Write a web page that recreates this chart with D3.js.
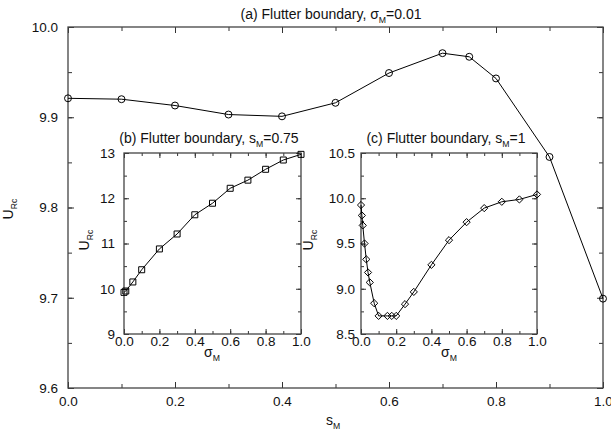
<!DOCTYPE html>
<html><head><meta charset="utf-8">
<script src="https://cdn.jsdelivr.net/npm/d3@7/dist/d3.min.js"></script>
<style>body{margin:0;background:#fff}svg{display:block}text{font-family:"Liberation Sans",Arial,sans-serif;fill:#111}</style>
</head><body><svg id="c" width="611" height="435"></svg>
<script>
// (a) main: U_Rc vs s_M, sigma_M = 0.01
const mainS = [0, 0.1, 0.2, 0.3, 0.4, 0.5, 0.6, 0.7, 0.75, 0.8, 0.9, 1.0];
const mainU = [9.921, 9.920, 9.913, 9.903, 9.901, 9.916, 9.949, 9.971, 9.967, 9.943, 9.856, 9.699];
// (b) inset: U_Rc vs sigma_M, s_M = 0.75
const bSigma = [0, 0.01, 0.05, 0.1, 0.2, 0.3, 0.4, 0.5, 0.6, 0.7, 0.8, 0.9, 1.0];
const bU = [9.92, 9.95, 10.15, 10.42, 10.88, 11.21, 11.635, 11.89, 12.22, 12.40, 12.64, 12.845, 12.97];
// (c) inset: U_Rc vs sigma_M, s_M = 1
const cSigma = [0, 0.005, 0.01, 0.02, 0.03, 0.04, 0.05, 0.075, 0.1, 0.15, 0.175, 0.2, 0.25, 0.3, 0.4, 0.5, 0.6, 0.7, 0.8, 0.9, 1.0];
const cU = [9.925, 9.81, 9.70, 9.50, 9.325, 9.18, 9.07, 8.84, 8.70, 8.70, 8.70, 8.70, 8.83, 8.965, 9.264, 9.537, 9.736, 9.891, 9.961, 9.987, 10.042];

const mainXTicks = [0, 0.2, 0.4, 0.6, 0.8, 1.0];
const mainYTicks = [9.6, 9.7, 9.8, 9.9, 10.0];
const insXTicks = [0, 0.2, 0.4, 0.6, 0.8, 1.0];
const bYTicks = [9, 10, 11, 12, 13];
const cYTicks = [8.5, 9.0, 9.5, 10.0, 10.5];

const svg = d3.select("#c");

function subText(g, x, y, parts, opts) {
  const t = g.append("text").attr("x", x).attr("y", y)
    .attr("text-anchor", opts.anchor || "middle").attr("font-size", opts.size);
  if (opts.rotate) t.attr("transform", `rotate(-90,${x},${y})`);
  parts.forEach(p => {
    const ts = t.append("tspan").text(p.t);
    if (p.sub) ts.attr("font-size", opts.size * 0.62).attr("dy", opts.size * 0.25);
    else if (p.after) ts.attr("dy", -opts.size * 0.25);
  });
  return t;
}

function panel(cfg) {
  const g = svg.append("g");
  const x = d3.scaleLinear().domain(cfg.xd).range([cfg.l, cfg.r]);
  const y = d3.scaleLinear().domain(cfg.yd).range([cfg.b, cfg.t]);
  g.append("rect").attr("x", cfg.l).attr("y", cfg.t).attr("width", cfg.r - cfg.l).attr("height", cfg.b - cfg.t)
    .attr("fill", "#fff").attr("stroke", "none");
  const tk = (sel) => sel.call(s => s.select(".domain").remove())
    .call(s => s.selectAll("line").attr("stroke", "#333"));
  const xMinor = d3.range(cfg.xd[0], cfg.xd[1] + 1e-9, cfg.xMinor);
  const yMinor = d3.range(cfg.yd[0], cfg.yd[1] + 1e-9, cfg.yMinor);
  const addTicks = (axis, tr) => g.append("g").attr("transform", tr).call(axis).call(tk);
  addTicks(d3.axisBottom(x).tickValues(xMinor).tickSize(-cfg.minor).tickFormat(""), `translate(0,${cfg.b})`);
  addTicks(d3.axisTop(x).tickValues(xMinor).tickSize(-cfg.minor).tickFormat(""), `translate(0,${cfg.t})`);
  addTicks(d3.axisLeft(y).tickValues(yMinor).tickSize(-cfg.minor).tickFormat(""), `translate(${cfg.l},0)`);
  addTicks(d3.axisRight(y).tickValues(yMinor).tickSize(-cfg.minor).tickFormat(""), `translate(${cfg.r},0)`);
  addTicks(d3.axisBottom(x).tickValues(cfg.xTicks).tickSize(-cfg.major).tickPadding(cfg.xpad).tickFormat(d3.format(cfg.xf)), `translate(0,${cfg.b})`);
  addTicks(d3.axisTop(x).tickValues(cfg.xTicks).tickSize(-cfg.major).tickFormat(""), `translate(0,${cfg.t})`);
  addTicks(d3.axisLeft(y).tickValues(cfg.yTicks).tickSize(-cfg.major).tickPadding(cfg.ypad).tickFormat(d3.format(cfg.yf)), `translate(${cfg.l},0)`);
  addTicks(d3.axisRight(y).tickValues(cfg.yTicks).tickSize(-cfg.major).tickFormat(""), `translate(${cfg.r},0)`);
  g.selectAll(".tick text").attr("font-size", cfg.fs).attr("font-family", "Liberation Sans, Arial, sans-serif").attr("fill", "#111");
  g.append("rect").attr("x", cfg.l).attr("y", cfg.t).attr("width", cfg.r - cfg.l).attr("height", cfg.b - cfg.t)
    .attr("fill", "none").attr("stroke", "#444").attr("stroke-width", 1.3);
  const pts = cfg.xs.map((v, i) => [v, cfg.ys[i]]);
  g.append("path").datum(pts).attr("fill", "none").attr("stroke", "#000").attr("stroke-width", 1)
    .attr("d", d3.line().x(d => x(d[0])).y(d => y(d[1])));
  g.selectAll(".m").data(pts).join("path")
    .attr("transform", d => `translate(${x(d[0])},${y(d[1])})`)
    .attr("fill", "none").attr("stroke", "#000").attr("stroke-width", 1)
    .attr("d", cfg.marker);
  return {g, x, y};
}

// main
panel({l: 68, r: 603, t: 27, b: 388, xd: [0, 1], yd: [9.6, 10.0],
  xTicks: mainXTicks, yTicks: mainYTicks, xMinor: 0.1, yMinor: 0.05, major: 6, minor: 4,
  xpad: 8, ypad: 10, xf: ".1f", yf: ".1f", fs: 13.5, xs: mainS, ys: mainU,
  marker: d3.symbol().type(d3.symbolCircle).size(38)()});
subText(svg, 331, 19, [{t: "(a) Flutter boundary, σ"}, {t: "M", sub: true}, {t: "=0.01", after: true}], {size: 14});
subText(svg, 333, 425, [{t: "s"}, {t: "M", sub: true}], {size: 14});
subText(svg, 13, 209, [{t: "U"}, {t: "Rc", sub: true}], {size: 14, rotate: true});

// inset b
panel({l: 124, r: 301, t: 153, b: 334, xd: [0, 1], yd: [9, 13],
  xTicks: insXTicks, yTicks: bYTicks, xMinor: 0.1, yMinor: 0.5, major: 5, minor: 3,
  xpad: 2, ypad: 9, xf: ".1f", yf: "d", fs: 13.5, xs: bSigma, ys: bU,
  marker: "M-3,-3h6v6h-6z"});
subText(svg, 209, 143, [{t: "(b) Flutter boundary, s"}, {t: "M", sub: true}, {t: "=0.75", after: true}], {size: 14});
subText(svg, 212, 357, [{t: "σ"}, {t: "M", sub: true}], {size: 14});
subText(svg, 89, 240, [{t: "U"}, {t: "Rc", sub: true}], {size: 14, rotate: true});

// inset c
panel({l: 361, r: 537, t: 153, b: 334, xd: [0, 1], yd: [8.5, 10.5],
  xTicks: insXTicks, yTicks: cYTicks, xMinor: 0.1, yMinor: 0.25, major: 5, minor: 3,
  xpad: 2, ypad: 6, xf: ".1f", yf: ".1f", fs: 13.5, xs: cSigma, ys: cU,
  marker: "M0,-3.6L3.6,0L0,3.6L-3.6,0Z"});
subText(svg, 446, 143, [{t: "(c) Flutter boundary, s"}, {t: "M", sub: true}, {t: "=1", after: true}], {size: 14});
subText(svg, 449, 357, [{t: "σ"}, {t: "M", sub: true}], {size: 14});
subText(svg, 313, 240, [{t: "U"}, {t: "Rc", sub: true}], {size: 14, rotate: true});
</script></body></html>
